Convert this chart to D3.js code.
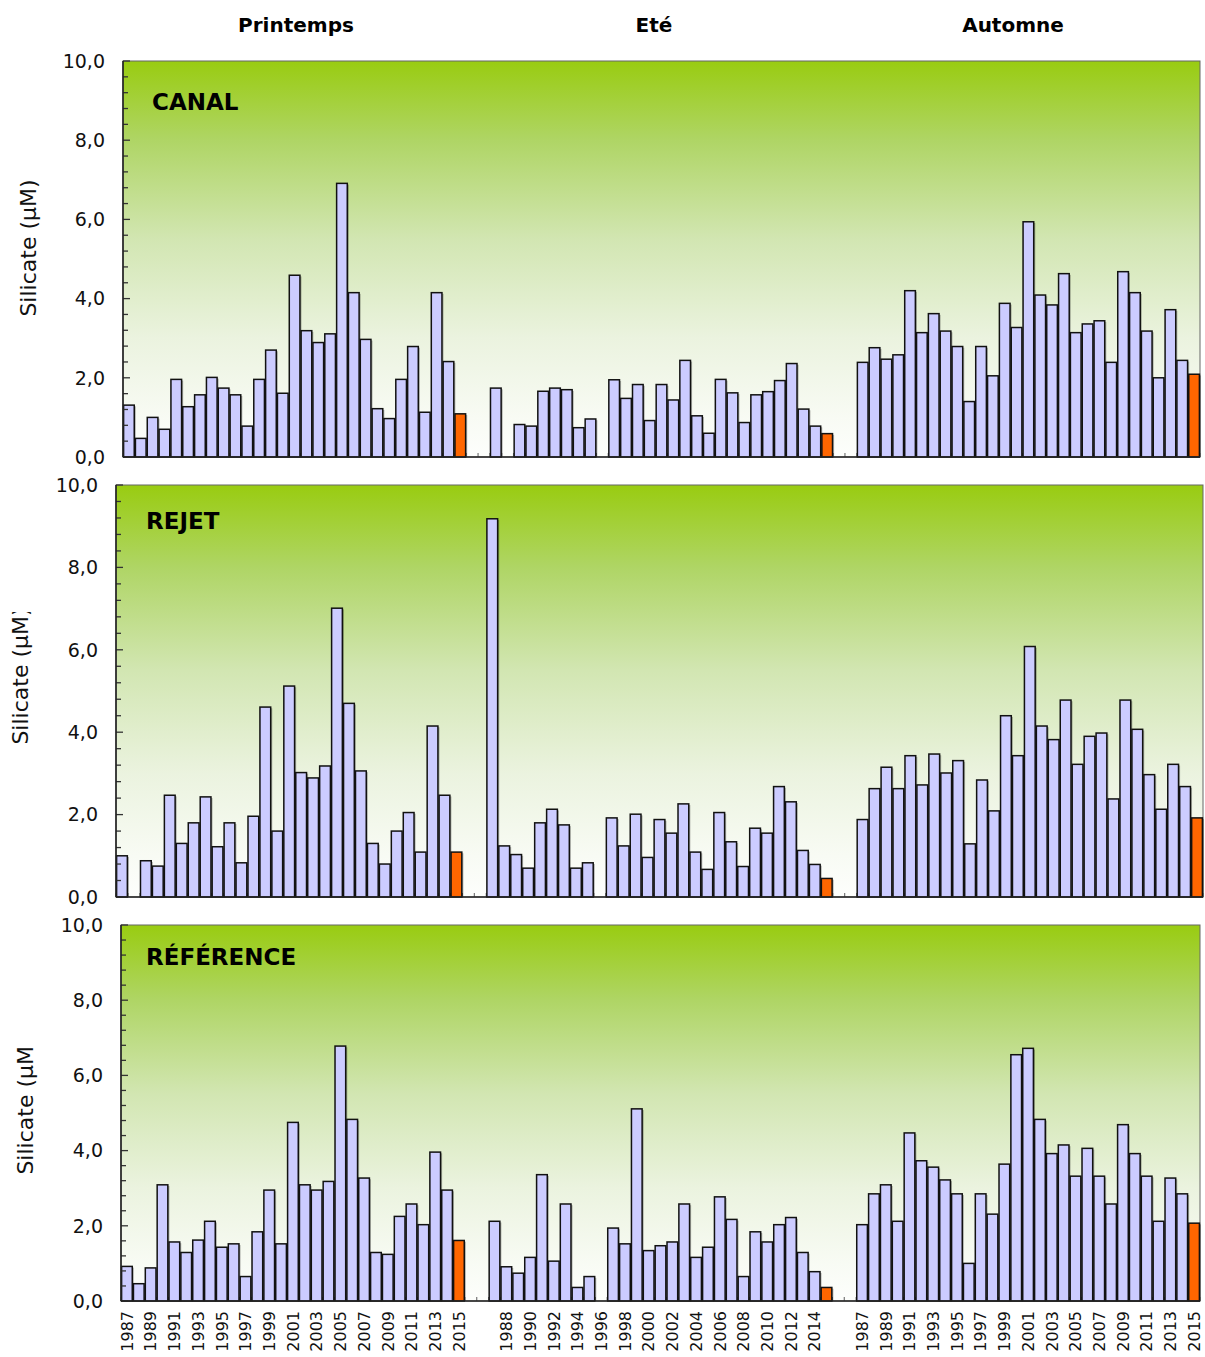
<!DOCTYPE html>
<html>
<head>
<meta charset="utf-8">
<script src="https://cdn.jsdelivr.net/npm/d3@7"></script>
<style>
  html, body { margin: 0; padding: 0; background: #ffffff; }
  svg { display: block; }
</style>
</head>
<body>
<svg id="chart" width="1205" height="1357"></svg>
<script>
// Years sampled in each season
const years = [1987, 1988, 1989, 1990, 1991, 1992, 1993, 1994, 1995, 1996,
               1997, 1998, 1999, 2000, 2001, 2002, 2003, 2004, 2005, 2006,
               2007, 2008, 2009, 2010, 2011, 2012, 2013, 2014, 2015];
const seasons = ["Printemps", "Eté", "Automne"];
const stations = ["CANAL", "REJET", "RÉFÉRENCE"];

// Silicate (µM), one value per year, null = no sample
const canalPrintemps = [1.31, 0.47, 1.00, 0.70, 1.96, 1.27, 1.57, 2.01, 1.74, 1.57,
                        0.78, 1.96, 2.70, 1.61, 4.59, 3.19, 2.89, 3.11, 6.91, 4.15,
                        2.97, 1.22, 0.97, 1.96, 2.79, 1.13, 4.15, 2.41, 1.09];
const canalEte = [1.74, null, 0.82, 0.78, 1.66, 1.74, 1.70, 0.74, 0.96, null,
                  1.95, 1.48, 1.83, 0.92, 1.83, 1.44, 2.44, 1.04, 0.60, 1.96,
                  1.62, 0.87, 1.57, 1.65, 1.93, 2.36, 1.21, 0.78, 0.59];
const canalAutomne = [2.39, 2.76, 2.47, 2.58, 4.20, 3.14, 3.62, 3.18, 2.79, 1.40,
                      2.79, 2.05, 3.88, 3.27, 5.94, 4.09, 3.84, 4.63, 3.14, 3.36,
                      3.44, 2.39, 4.68, 4.15, 3.18, 2.00, 3.72, 2.44, 2.09];

const rejetPrintemps = [1.00, null, 0.88, 0.75, 2.47, 1.30, 1.80, 2.43, 1.22, 1.80,
                        0.83, 1.96, 4.61, 1.60, 5.12, 3.02, 2.89, 3.18, 7.01, 4.70,
                        3.06, 1.30, 0.80, 1.60, 2.05, 1.09, 4.15, 2.47, 1.09];
const rejetEte = [9.18, 1.24, 1.03, 0.70, 1.80, 2.13, 1.75, 0.70, 0.83, null,
                  1.92, 1.24, 2.01, 0.96, 1.88, 1.55, 2.26, 1.09, 0.67, 2.05,
                  1.34, 0.74, 1.67, 1.55, 2.68, 2.31, 1.13, 0.79, 0.45];
const rejetAutomne = [1.88, 2.63, 3.15, 2.63, 3.43, 2.72, 3.47, 3.01, 3.31, 1.29,
                      2.84, 2.09, 4.40, 3.43, 6.08, 4.15, 3.82, 4.78, 3.22, 3.90,
                      3.98, 2.38, 4.78, 4.07, 2.97, 2.13, 3.22, 2.68, 1.92];

const referencePrintemps = [0.92, 0.46, 0.88, 3.09, 1.57, 1.29, 1.62, 2.12, 1.43, 1.52,
                            0.65, 1.84, 2.95, 1.52, 4.75, 3.09, 2.95, 3.18, 6.78, 4.83,
                            3.27, 1.29, 1.24, 2.25, 2.58, 2.03, 3.96, 2.95, 1.61];
const referenceEte = [2.12, 0.91, 0.74, 1.16, 3.36, 1.06, 2.58, 0.36, 0.65, null,
                      1.94, 1.52, 5.11, 1.34, 1.47, 1.57, 2.58, 1.16, 1.43, 2.77,
                      2.17, 0.65, 1.84, 1.57, 2.03, 2.22, 1.29, 0.78, 0.36];
const referenceAutomne = [2.03, 2.85, 3.09, 2.12, 4.47, 3.73, 3.56, 3.22, 2.85, 1.00,
                          2.85, 2.31, 3.64, 6.55, 6.72, 4.83, 3.92, 4.15, 3.32, 4.06,
                          3.32, 2.58, 4.69, 3.92, 3.32, 2.12, 3.27, 2.85, 2.07];

const currentYear = 2015;
const yMajorTicks = [0, 2, 4, 6, 8, 10];
const yMinorStep = 0.4;
const yMax = 10;
const gapCategories = 2;

const seriesByStation = [
  [canalPrintemps, canalEte, canalAutomne],
  [rejetPrintemps, rejetEte, rejetAutomne],
  [referencePrintemps, referenceEte, referenceAutomne]
];

// Layout of the three stacked plots
const panels = [
  { left: 123, right: 1200, top: 61,  bottom: 457,  labelX: 152, labelY: 110, tickRight: 105, titleX: 28, titleY: 248,  titleClipTop: 0 },
  { left: 116, right: 1203, top: 485, bottom: 897,  labelX: 146, labelY: 529, tickRight: 98,  titleX: 20, titleY: 676,  titleClipTop: 612 },
  { left: 121, right: 1200, top: 925, bottom: 1301, labelX: 146, labelY: 965, tickRight: 103, titleX: 25, titleY: 1106, titleClipTop: 1046 }
];

const FONT = "'DejaVu Sans', Verdana, sans-serif";
const barFill = "#ccccff";
const currentFill = "#ff6600";

const fr = d3.formatLocale({ decimal: ",", thousands: " ", grouping: [3], currency: ["", " €"] });
const fmt = fr.format(".1f");

// Category axis: seasons laid side by side with empty slots between them
const categories = [];
seasons.forEach((s, si) => {
  years.forEach((y, yi) => categories.push({ key: s + "-" + y, season: si, year: y, yi }));
  if (si < seasons.length - 1) {
    for (let g = 0; g < gapCategories; g++) categories.push({ key: "gap-" + si + "-" + g, season: null });
  }
});

const svg = d3.select("#chart");
const defs = svg.append("defs");

const grad = defs.append("linearGradient")
  .attr("id", "plotBg").attr("x1", 0).attr("y1", 0).attr("x2", 0).attr("y2", 1);
[[0, "#99cc11"], [0.2, "#afd565"], [0.45, "#d2e6b2"], [0.7, "#ebf3df"], [0.9, "#f8fbf4"], [1, "#fdfefc"]]
  .forEach(([o, c]) => grad.append("stop").attr("offset", o).attr("stop-color", c));

panels.forEach((p, pi) => {
  const g = svg.append("g");
  const x = d3.scaleBand()
    .domain(categories.map(c => c.key))
    .range([p.left, p.right])
    .paddingInner(0.1)
    .paddingOuter(0.05);
  const y = d3.scaleLinear().domain([0, yMax]).range([p.bottom, p.top]);

  // plot area
  g.append("rect")
    .attr("x", p.left).attr("y", p.top)
    .attr("width", p.right - p.left).attr("height", p.bottom - p.top)
    .attr("fill", "url(#plotBg)")
    .attr("stroke", "#666").attr("stroke-width", 1);

  // category tick marks along the base
  const step = x.step();
  const x0 = x(categories[0].key) - x.paddingOuter() * step;
  g.append("g").selectAll("line")
    .data(d3.range(categories.length + 1))
    .join("line")
    .attr("x1", i => x0 + i * step).attr("x2", i => x0 + i * step)
    .attr("y1", p.bottom).attr("y2", p.bottom - 4)
    .attr("stroke", "#777").attr("stroke-width", 1.2);

  // bars
  const series = seriesByStation[pi];
  const barData = [];
  categories.forEach(c => {
    if (c.season === null) return;
    const v = series[c.season][c.yi];
    if (v === null || v === undefined) return;
    barData.push({ key: c.key, year: c.year, value: v });
  });

  const bars = g.append("g");
  bars.selectAll("rect.shadow")
    .data(barData)
    .join("rect")
    .attr("class", "shadow")
    .attr("x", d => x(d.key) + 1.6)
    .attr("y", d => y(d.value) + 1.2)
    .attr("width", x.bandwidth())
    .attr("height", d => p.bottom - y(d.value) - 1.2)
    .attr("fill", "rgba(0,0,0,0.28)");
  bars.selectAll("rect.bar")
    .data(barData)
    .join("rect")
    .attr("class", "bar")
    .attr("x", d => x(d.key))
    .attr("y", d => y(d.value))
    .attr("width", x.bandwidth())
    .attr("height", d => p.bottom - y(d.value))
    .attr("fill", d => d.year === currentYear ? currentFill : barFill)
    .attr("stroke", "#111").attr("stroke-width", 1.5);

  // value axis: minor and major ticks pointing inward
  const minor = d3.range(0, yMax + 1e-9, yMinorStep);
  g.append("g").selectAll("line")
    .data(minor)
    .join("line")
    .attr("x1", p.left).attr("x2", d => p.left + (yMajorTicks.some(t => Math.abs(t - d) < 1e-6) ? 7 : 5))
    .attr("y1", d => y(d)).attr("y2", d => y(d))
    .attr("stroke", "#333").attr("stroke-width", 1.3);

  g.append("g").selectAll("text")
    .data(yMajorTicks)
    .join("text")
    .attr("x", p.tickRight).attr("y", d => y(d))
    .attr("dy", "0.36em")
    .attr("text-anchor", "end")
    .attr("font-family", FONT).attr("font-size", 19).attr("fill", "#111")
    .text(d => fmt(d));

  // axis lines
  g.append("line").attr("x1", p.left).attr("x2", p.left).attr("y1", p.top).attr("y2", p.bottom)
    .attr("stroke", "#222").attr("stroke-width", 1.6);
  g.append("line").attr("x1", p.left).attr("x2", p.right).attr("y1", p.bottom).attr("y2", p.bottom)
    .attr("stroke", "#222").attr("stroke-width", 1.6);

  // station name
  g.append("text")
    .attr("x", p.labelX).attr("y", p.labelY)
    .attr("font-family", FONT).attr("font-weight", "bold").attr("font-size", 23).attr("fill", "#000")
    .text(stations[pi]);

  // value axis title, inside its title box
  const clipId = "titleClip" + pi;
  defs.append("clipPath").attr("id", clipId).append("rect")
    .attr("x", 0).attr("y", p.titleClipTop).attr("width", 60).attr("height", 1357 - p.titleClipTop);
  g.append("g")
    .attr("clip-path", "url(#" + clipId + ")")
    .append("text")
    .attr("transform", `translate(${p.titleX},${p.titleY}) rotate(-90)`)
    .attr("text-anchor", "middle")
    .attr("dy", "0.36em")
    .attr("font-family", FONT).attr("font-size", 22).attr("fill", "#111")
    .text("Silicate (µM)");

  // year labels under the bottom plot, every second category
  if (pi === panels.length - 1) {
    const labelled = categories.filter((c, i) => i % 2 === 0 && c.season !== null);
    g.append("g").selectAll("text")
      .data(labelled)
      .join("text")
      .attr("transform", d => `translate(${x(d.key) + x.bandwidth() / 2},${p.bottom + 10}) rotate(-90)`)
      .attr("text-anchor", "end")
      .attr("dy", "0.36em")
      .attr("font-family", FONT).attr("font-size", 16).attr("fill", "#111")
      .text(d => d.year);
  }

  // season headings above the top plot
  if (pi === 0) {
    const headX = [296, 654, 1013];
    svg.append("g").selectAll("text")
      .data(seasons)
      .join("text")
      .attr("x", (d, i) => headX[i]).attr("y", 32)
      .attr("text-anchor", "middle")
      .attr("font-family", FONT).attr("font-weight", "bold").attr("font-size", 20).attr("fill", "#000")
      .text(d => d);
  }
});
</script>
</body>
</html>
